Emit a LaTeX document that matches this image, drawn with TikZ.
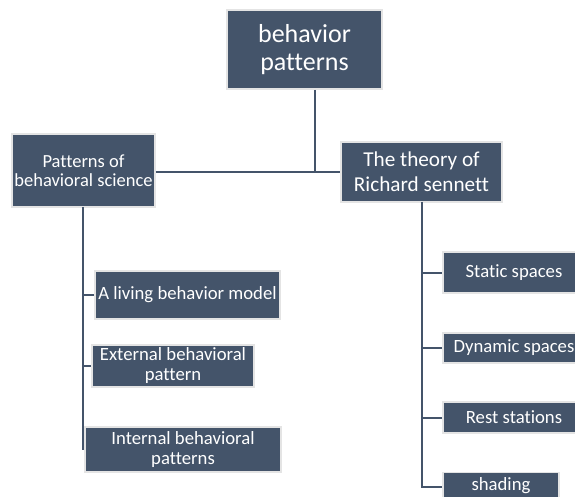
\documentclass[tikz,border=0pt]{standalone}
\usepackage{fontspec}
\setmainfont{Carlito}[Ligatures=NoCommon]
\definecolor{boxfill}{HTML}{44546A}
\definecolor{boxedge}{HTML}{E4E4E4}
\begin{document}
\begin{tikzpicture}[x=1pt,y=-1pt,
  box/.style={fill=boxfill, draw=boxedge, line width=1.6pt, text=white, align=center, inner sep=1pt, anchor=center},
  conn/.style={draw=boxfill, line width=2pt}]
\useasboundingbox (0,0) rectangle (575,496);
\clip (0,0) rectangle (575,496);
% nodes
\node[box, minimum width=155pt, minimum height=79pt, font=\fontsize{26}{28.5}\selectfont] (top) at (304.5,49.5) {behavior\\patterns};
\node[box, minimum width=143pt, minimum height=73pt, font=\fontsize{18.5}{18.5}\selectfont] (pat) at (83.5,170.5) {Patterns of\\behavioral science};
\node[box, minimum width=161pt, minimum height=60pt, font=\fontsize{21.2}{25}\selectfont] (rich) at (421.5,172) {The theory of\\Richard sennett};
\node[box, minimum width=185pt, minimum height=48pt, font=\fontsize{18.7}{20}\selectfont] (living) at (187.5,295) {A living behavior model};
\node[box, minimum width=162pt, minimum height=42pt, font=\fontsize{18.7}{20}\selectfont] (ext) at (173,366) {External behavioral\\pattern};
\node[box, minimum width=196pt, minimum height=45pt, font=\fontsize{18.7}{20}\selectfont] (int) at (183,449.5) {Internal behavioral\\patterns};
\node[box, minimum width=142pt, minimum height=41pt, font=\fontsize{18.7}{20}\selectfont] (static) at (514,272.5) {Static spaces};
\node[box, minimum width=142pt, minimum height=30pt, font=\fontsize{18.7}{20}\selectfont] (dyn) at (514,348) {Dynamic spaces};
\node[box, minimum width=142pt, minimum height=31pt, font=\fontsize{18.7}{20}\selectfont] (rest) at (514,417.5) {Rest stations};
\node[box, minimum width=116pt, minimum height=26pt, font=\fontsize{18.7}{20}\selectfont] (shade) at (501,485.5) {shading};
% junctions
\coordinate (j) at (315,172);
\coordinate (lv) at (83,450);
\coordinate (rv) at (422,487);
% connectors
\draw[conn] (top.south -| j) -- (j);
\draw[conn] (pat.east |- rich.west) -- (rich.west);
\draw[conn] ([yshift=1pt]pat.south -| lv) -- (lv);
\draw[conn] (lv |- living.west) -- (living.west);
\draw[conn] (lv |- ext.west) -- (ext.west);
\draw[conn] ([yshift=1pt]rich.south -| rv) -- (rv) -- (shade.west |- rv);
\draw[conn] (rv |- static.west) -- (static.west);
\draw[conn] (rv |- dyn.west) -- (dyn.west);
\draw[conn] (rv |- rest.west) -- (rest.west);
\end{tikzpicture}
\end{document}
